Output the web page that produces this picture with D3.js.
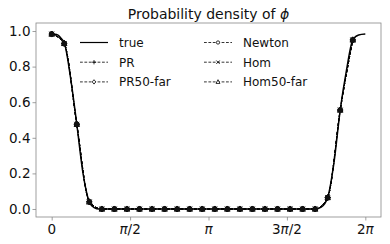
<!DOCTYPE html>
<html lang="en">
<head>
<meta charset="UTF-8" />
<title>Probability density of phi</title>
<script src="https://d3js.org/d3.v7.min.js"></script>
<style>
  body { margin: 0; background: white; }
  svg { display: block; font-family: "DejaVu Sans", sans-serif; }
</style>
</head>
<body>
<svg id="chart" width="390" height="244"></svg>
<script>
const PI = Math.PI;
// true density (x in radians)
const trueX = [0, 0.1, 0.2, 0.251, 0.377, 0.503, 0.628, 0.754, 0.85, 0.95, 1.1, 3.0, 5.1, 5.278, 5.4, 5.529, 5.655, 5.780, 5.906, 6.032, 6.15, 6.283];
const trueY = [0.983, 0.98, 0.955, 0.935, 0.74, 0.476, 0.20, 0.04, 0.008, 0.0, 0.0, 0.0, 0.0, 0.0, 0.01, 0.064, 0.26, 0.556, 0.78, 0.95, 0.978, 0.983];
// estimates on the 25-point grid k*2pi/25 (all methods overlap)
const gridK = d3.range(25);
const estimate = [0.983, 0.93, 0.476, 0.04, 0, 0, 0, 0, 0, 0, 0, 0, 0, 0, 0, 0, 0, 0, 0, 0, 0, 0, 0.064, 0.556, 0.95];
const seriesNames = ["PR", "PR50-far", "Newton", "Hom", "Hom50-far"];
const seriesMarkers = ["plus", "diamond", "circle", "cross", "triangle"];
const xTickValues = [0, PI / 2, PI, 3 * PI / 2, 2 * PI];
const xTickLabels = [["0", ""], ["π", "/2"], ["π", ""], ["3", "π", "/2"], ["2", "π"]];
const yTickValues = [0, 0.2, 0.4, 0.6, 0.8, 1.0];

const svg = d3.select("#chart");
const L = 36, T = 23, R = 381, B = 217;
const x = d3.scaleLinear().domain([-0.314, 2 * PI + 0.314]).range([L, R]);
const y = d3.scaleLinear().domain([-0.045, 1.045]).range([B, T]);

svg.append("text").attr("x", (L + R) / 2).attr("y", 18.5).attr("text-anchor", "middle")
  .attr("font-size", 14).attr("fill", "#111")
  .html('Probability density of <tspan font-style="italic">ϕ</tspan>');

const g = svg.append("g");
// axes
const xAxis = g.append("g").attr("transform", `translate(0,${B})`)
  .call(d3.axisBottom(x).tickValues(xTickValues).tickSize(3.5).tickFormat(""));
const yAxis = g.append("g").attr("transform", `translate(${L},0)`)
  .call(d3.axisLeft(y).tickValues(yTickValues).tickSize(3.5).tickFormat(d3.format(".1f")));
[xAxis, yAxis].forEach(a => {
  a.select(".domain").remove();
  a.selectAll("line").attr("stroke", "#888").attr("stroke-width", 0.8);
});
yAxis.selectAll("text").attr("font-size", 13.5).attr("fill", "#111")
  .attr("font-family", "DejaVu Sans").attr("x", -5.5);

xTickValues.forEach((v, i) => {
  const t = g.append("text").attr("x", x(v)).attr("y", 234).attr("text-anchor", "middle")
    .attr("font-size", 13.5).attr("fill", "#111");
  xTickLabels[i].forEach(p => {
    if (!p) return;
    t.append("tspan").attr("font-style", p === "π" ? "italic" : null).text(p);
  });
});

g.append("rect").attr("x", L).attr("y", T).attr("width", R - L).attr("height", B - T)
  .attr("fill", "none").attr("stroke", "#888").attr("stroke-width", 0.8);

const line = d3.line().curve(d3.curveMonotoneX);
// estimate lines
const estPts = gridK.map((k, i) => [x(2 * PI * k / 25), y(estimate[i])]);
seriesNames.forEach(() => {
  g.append("path").attr("d", line(estPts)).attr("fill", "none")
    .attr("stroke", "#000").attr("stroke-width", 0.9).attr("stroke-dasharray", "3,1.5");
});
// true line
g.append("path").attr("d", line(trueX.map((v, i) => [x(v), y(trueY[i])])))
  .attr("fill", "none").attr("stroke", "#000").attr("stroke-width", 1.5);

function drawMarker(sel, type, cx, cy, s, w) {
  w = w || 1;
  if (type === "plus") {
    sel.append("path").attr("d", `M${cx - s},${cy}H${cx + s}M${cx},${cy - s}V${cy + s}`)
      .attr("stroke", "#000").attr("stroke-width", w);
  } else if (type === "cross") {
    sel.append("path").attr("d", `M${cx - s * 0.8},${cy - s * 0.8}L${cx + s * 0.8},${cy + s * 0.8}M${cx - s * 0.8},${cy + s * 0.8}L${cx + s * 0.8},${cy - s * 0.8}`)
      .attr("stroke", "#000").attr("stroke-width", w);
  } else if (type === "diamond") {
    sel.append("path").attr("d", `M${cx},${cy - s}L${cx + s * 0.8},${cy}L${cx},${cy + s}L${cx - s * 0.8},${cy}Z`)
      .attr("fill", "white").attr("stroke", "#000").attr("stroke-width", w);
  } else if (type === "circle") {
    sel.append("circle").attr("cx", cx).attr("cy", cy).attr("r", s * 0.75)
      .attr("fill", "white").attr("stroke", "#000").attr("stroke-width", w);
  } else {
    sel.append("path").attr("d", `M${cx},${cy - s}L${cx + s * 0.9},${cy + s * 0.7}L${cx - s * 0.9},${cy + s * 0.7}Z`)
      .attr("fill", "white").attr("stroke", "#000").attr("stroke-width", w);
  }
}
const mk = g.append("g");
estPts.forEach(p => {
  seriesMarkers.forEach(m => drawMarker(mk, m, p[0], p[1], 3));
  mk.append("circle").attr("cx", p[0]).attr("cy", p[1]).attr("r", 2.7).attr("fill", "#111");
});

// legend
const legendItems = [["true", null], ["PR", "plus"], ["PR50-far", "diamond"],
  ["Newton", "circle"], ["Hom", "cross"], ["Hom50-far", "triangle"]];
const lg = svg.append("g");
legendItems.forEach((d, i) => {
  const col = Math.floor(i / 3), row = i % 3;
  const x0 = col ? 204 : 80, yy = 42.5 + row * 19.7;
  const item = lg.append("g");
  if (!d[1]) {
    item.append("line").attr("x1", x0).attr("x2", x0 + 28).attr("y1", yy).attr("y2", yy)
      .attr("stroke", "#000").attr("stroke-width", 1.2);
  } else {
    item.append("line").attr("x1", x0).attr("x2", x0 + 28).attr("y1", yy).attr("y2", yy)
      .attr("stroke", "#000").attr("stroke-width", 0.8).attr("stroke-dasharray", "2.8,1.6");
    drawMarker(item, d[1], x0 + 14, yy, 2.2, 0.8);
  }
  item.append("text").attr("x", x0 + 39).attr("y", yy + 4.4).attr("font-size", 12)
    .attr("fill", "#111").text(d[0]);
});
</script>
</body>
</html>
